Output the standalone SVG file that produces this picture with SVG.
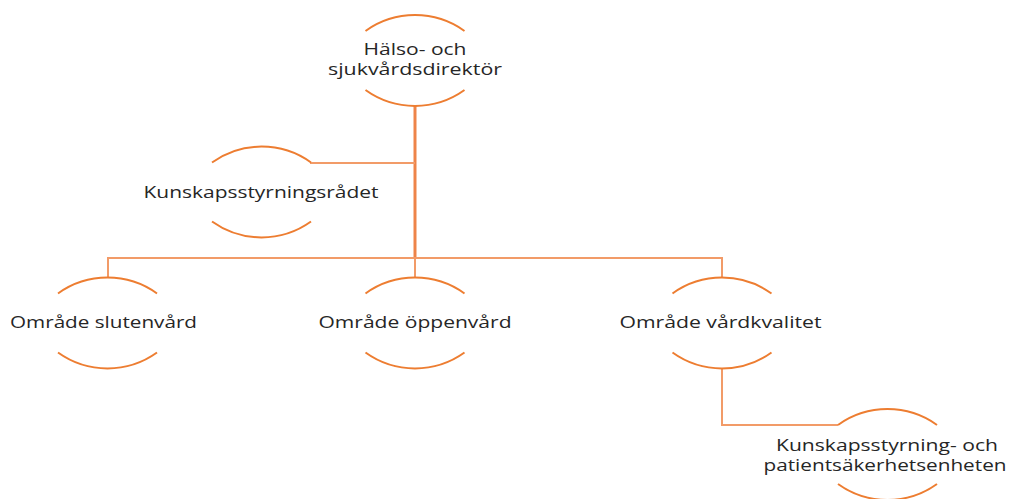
<svg xmlns="http://www.w3.org/2000/svg" width="1012" height="499" viewBox="0 0 1012 499">
  <style>
    .arc { fill: none; stroke: #ED7D31; stroke-width: 2; }
    .conn { fill: none; stroke: #F29B68; stroke-width: 2; }
    .main { fill: none; stroke: #EE8449; stroke-width: 3; }
    .lbl { font-family: "Open Sans", "Liberation Sans", sans-serif; font-size: 16px; fill: #262626; text-anchor: middle; }
  </style>
  <rect width="1012" height="499" fill="#FFFFFF"/>
  <g id="connectors">
    <path class="main" d="M415 105 V258"/>
    <path class="conn" d="M310 163 H415"/>
    <path class="conn" d="M108 277 V258 H722 V277"/>
    <path class="conn" d="M415 258 V277"/>
    <path class="conn" d="M722 368 V425 H838"/>
  </g>
  <g id="node-direktor">
    <path class="arc" d="M365.5 31 A85 85 0 0 1 464.5 31"/>
    <path class="arc" d="M365.5 90 A85 85 0 0 0 464.5 90"/>
    <text class="lbl" x="415" y="55" textLength="103" lengthAdjust="spacingAndGlyphs">Hälso- och</text>
    <text class="lbl" x="415" y="75" textLength="174" lengthAdjust="spacingAndGlyphs">sjukvårdsdirektör</text>
  </g>
  <g id="node-radet">
    <path class="arc" d="M212 162.5 A85 85 0 0 1 311 162.5"/>
    <path class="arc" d="M212 221.5 A85 85 0 0 0 311 221.5"/>
    <text class="lbl" x="261" y="198" textLength="235" lengthAdjust="spacingAndGlyphs">Kunskapsstyrningsrådet</text>
  </g>
  <g id="node-slutenvard">
    <path class="arc" d="M58 293.5 A85 85 0 0 1 157 293.5"/>
    <path class="arc" d="M58 352.5 A85 85 0 0 0 157 352.5"/>
    <text class="lbl" x="103.5" y="328" textLength="187" lengthAdjust="spacingAndGlyphs">Område slutenvård</text>
  </g>
  <g id="node-oppenvard">
    <path class="arc" d="M365.5 293.5 A85 85 0 0 1 464.5 293.5"/>
    <path class="arc" d="M365.5 352.5 A85 85 0 0 0 464.5 352.5"/>
    <text class="lbl" x="415" y="328" textLength="193" lengthAdjust="spacingAndGlyphs">Område öppenvård</text>
  </g>
  <g id="node-vardkvalitet">
    <path class="arc" d="M672.5 293.5 A85 85 0 0 1 771.5 293.5"/>
    <path class="arc" d="M672.5 352.5 A85 85 0 0 0 771.5 352.5"/>
    <text class="lbl" x="720.5" y="328" textLength="202" lengthAdjust="spacingAndGlyphs">Område vårdkvalitet</text>
  </g>
  <g id="node-enheten">
    <path class="arc" d="M838 425 A85 85 0 0 1 937 425"/>
    <path class="arc" d="M838 484 A85 85 0 0 0 937 484"/>
    <text class="lbl" x="887" y="451" textLength="222" lengthAdjust="spacingAndGlyphs">Kunskapsstyrning- och</text>
    <text class="lbl" x="885" y="471" textLength="243" lengthAdjust="spacingAndGlyphs">patientsäkerhetsenheten</text>
  </g>
</svg>
